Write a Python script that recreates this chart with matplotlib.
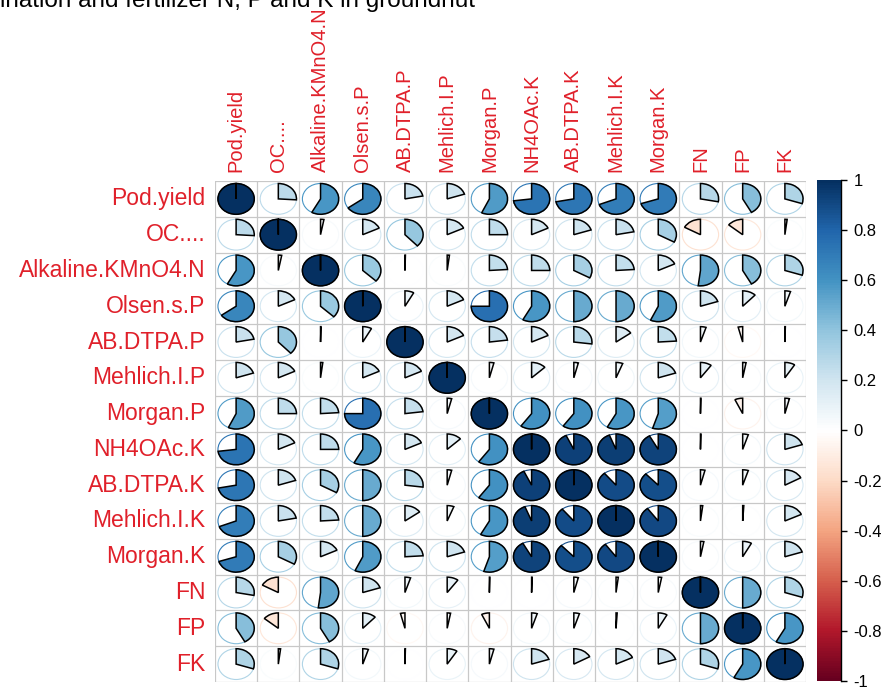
import numpy as np
import matplotlib
matplotlib.use("Agg")
import matplotlib.pyplot as plt
from matplotlib.patches import Wedge, Ellipse
from matplotlib.colors import LinearSegmentedColormap, Normalize
from matplotlib.cm import ScalarMappable

plt.rcParams["font.family"] = ["Liberation Sans", "DejaVu Sans"]

title = "ination and fertilizer N, P and K in groundnut"

variables = ["Pod.yield", "OC....", "Alkaline.KMnO4.N", "Olsen.s.P", "AB.DTPA.P",
             "Mehlich.I.P", "Morgan.P", "NH4OAc.K", "AB.DTPA.K", "Mehlich.I.K",
             "Morgan.K", "FN", "FP", "FK"]

# upper triangle, row by row (values right of the diagonal)
upper = [
    [0.26, 0.58, 0.65, 0.22, 0.20, 0.57, 0.73, 0.72, 0.69, 0.70, 0.28, 0.42, 0.30],
    [0.03, 0.18, 0.38, 0.18, 0.25, 0.18, 0.20, 0.22, 0.33, -0.17, -0.14, 0.02],
    [0.37, 0.00, 0.02, 0.24, 0.25, 0.33, 0.24, 0.18, 0.52, 0.42, 0.30],
    [0.08, 0.18, 0.75, 0.58, 0.50, 0.50, 0.57, 0.20, 0.12, 0.05],
    [0.18, 0.23, 0.18, 0.27, 0.15, 0.24, 0.05, -0.04, 0.00],
    [0.04, 0.13, 0.04, 0.06, 0.20, 0.10, 0.03, 0.09],
    [0.60, 0.60, 0.58, 0.55, 0.00, -0.07, 0.04],
    [0.93, 0.94, 0.92, 0.00, 0.05, 0.20],
    [0.89, 0.88, 0.04, 0.05, 0.17],
    [0.90, 0.02, 0.01, 0.18],
    [0.03, 0.08, 0.20],
    [0.50, 0.30],
    [0.58],
    [],
]

cbar_ticks = [-1, -0.8, -0.6, -0.4, -0.2, 0, 0.2, 0.4, 0.6, 0.8, 1]
cbar_labels = ["-1", "-0.8", "-0.6", "-0.4", "-0.2", "0", "0.2", "0.4", "0.6", "0.8", "1"]

n = len(variables)
corr = np.eye(n)
for i, row in enumerate(upper):
    for k, v in enumerate(row):
        j = i + 1 + k
        corr[i, j] = v
        corr[j, i] = v

cmap = LinearSegmentedColormap.from_list(
    "RdBu2", ["#67001F", "#B2182B", "#D6604D", "#F4A582", "#FDDBC7", "#FFFFFF",
              "#D1E5F0", "#92C5DE", "#4393C3", "#2166AC", "#053061"], N=200)
norm = Normalize(-1, 1)
label_col = "#E0202A"

W, H = 883, 690
fig = plt.figure(figsize=(W / 100, H / 100), dpi=100)
ax = fig.add_axes([215 / W, 1 - 682 / H, 591 / W, 501 / H])
ax.set_xlim(0, n)
ax.set_ylim(0, n)
ax.axis("off")

# grid
for k in range(n + 1):
    ax.plot([k, k], [0, n], color="#C8C8C8", lw=0.9, zorder=1)
    ax.plot([0, n], [k, k], color="#C8C8C8", lw=0.9, zorder=1)

r = 0.43
for i in range(n):
    for j in range(n):
        v = corr[i, j]
        cx, cy = j + 0.5, n - 0.5 - i
        col = cmap(norm(v))
        ax.add_patch(Ellipse((cx, cy), 2 * r, 2 * r, facecolor="white",
                             edgecolor=col, lw=0.8, zorder=2))
        f = min(max(abs(v), 0.004), 0.9995)
        if v >= 0:
            t1, t2 = 90 - 360 * f, 90
        else:
            t1, t2 = 90, 90 + 360 * f
        ax.add_patch(Wedge((cx, cy), r, t1, t2, facecolor=col,
                           edgecolor="black", lw=1.1, zorder=3))

# labels
for k, name in enumerate(variables):
    ax.annotate(name, xy=(0, n - 0.5 - k), xytext=(-7, 0), textcoords="offset points",
                ha="right", va="center", color=label_col, fontsize=16.5)
    ax.annotate(name, xy=(k + 0.5, n), xytext=(0, 6.5), textcoords="offset points",
                ha="center", va="bottom", rotation=90, color=label_col, fontsize=14.5)

# colour legend
cax = fig.add_axes([817 / W, 1 - 681 / H, 24 / W, 501 / H])
cb = fig.colorbar(ScalarMappable(norm=norm, cmap=cmap), cax=cax, ticks=cbar_ticks)
cb.outline.set_visible(False)
cb.ax.set_yticklabels(cbar_labels)
cb.ax.tick_params(length=4, width=1, color="black", labelsize=12, pad=5)
cax.plot([1, 1], [0, 1], transform=cax.transAxes, color="black", lw=1, clip_on=False)

fig.text(0, 1 - 7 / H, title, ha="left", va="baseline", fontsize=17.5)

fig.savefig("out.png", dpi=100)
